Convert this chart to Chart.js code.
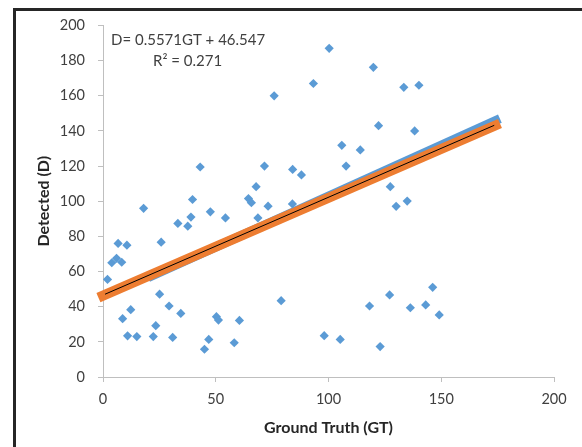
<!DOCTYPE html>
<html>
<head>
<meta charset="utf-8">
<script src="https://cdn.jsdelivr.net/npm/chart.js@4/dist/chart.umd.min.js"></script>
<style>
  html, body { margin: 0; padding: 0; background: #ffffff; overflow: hidden; }
  #wrap { position: relative; width: 582px; height: 447px; }
  #frame { position: absolute; left: 13px; top: 8px; width: 600px; height: 480px;
           border-left: 3px solid #262626; border-top: 3px solid #262626; box-sizing: border-box; }
  canvas { position: absolute; left: 0; top: 0; }
</style>
</head>
<body>
<div id="wrap">
  <div id="frame"></div>
  <canvas id="c" width="582" height="447"></canvas>
</div>
<script>
// Scatter points (Ground Truth, Detected)
const gtValues = [2, 3.9, 6, 8.3, 6.7, 10.6, 8.7, 12.3, 10.9, 15, 18, 22.3, 23.4, 25.1, 25.8, 29.3, 30.9,
  33.2, 34.5, 37.6, 39, 39.7, 43.1, 45, 46.9, 47.6, 50.3, 51.2, 54.3, 58.2, 60.5, 64.5, 65.8, 67.9, 68.7,
  71.6, 73.2, 75.9, 79, 84.1, 84, 88, 93.3, 98.1, 100.3, 105.2, 105.9, 107.8, 114.1, 118.2, 119.9, 122.2,
  122.9, 127.1, 127.4, 130, 133.4, 134.9, 136.3, 138.2, 140.1, 143.1, 146.2, 149.1];
const detectedValues = [55.5, 65, 67.5, 65.3, 76, 75, 33.2, 38.3, 23.4, 23, 96, 23, 29.2, 47.1, 76.7, 40.4, 22.5,
  87.4, 36.2, 85.8, 91, 101, 119.5, 15.8, 21.4, 94, 34.3, 32.4, 90.5, 19.5, 32.2, 101.5, 99.2, 108.3, 90.5,
  120, 97.2, 160, 43.4, 118.1, 98.5, 115, 167, 23.5, 187, 21.4, 131.8, 120, 129.2, 40.4, 176.2, 143,
  17.3, 46.7, 108.3, 97.1, 164.8, 100.1, 39.4, 140, 166, 41, 51, 35.3];

// Dense band of detections (blue) – endpoints
const bandGT = [20, 176];
const bandD = [56.5, 147];
// Fitted values band (orange) – endpoints
const fitGT = [0, 174];
const fitD = [46.3, 143.1];
// Trendline (black) – endpoints
const trendGT = [0.9, 173.5];
const trendD = [47.1, 143.2];

const xTicks = [0, 50, 100, 150, 200];
const yTicks = [0, 20, 40, 60, 80, 100, 120, 140, 160, 180, 200];
const equationText = 'D= 0.5571GT + 46.547';
const r2Text = 'R\u00B2 = 0.271';
const xTitle = 'Ground Truth (GT)';
const yTitle = 'Detected (D)';

const pts = (xs, ys) => xs.map((x, i) => ({ x: x, y: ys[i] }));

const FONT = 'Lato';
const BLUE = '#5B9BD5';
const ORANGE = '#ED7D31';
const AXIS = '#BFBFBF';
const LABEL = '#404040';

const annotation = {
  id: 'annotation',
  afterDraw(chart) {
    const ctx = chart.ctx;
    const a = chart.chartArea;
    ctx.save();
    ctx.font = '15px ' + FONT;
    ctx.fillStyle = LABEL;
    ctx.textAlign = 'left';
    ctx.textBaseline = 'middle';
    ctx.fillText(equationText, a.left + 8, a.top + 15);
    ctx.fillText(r2Text, a.left + 50, a.top + 36);
    ctx.restore();
  }
};

new Chart(document.getElementById('c'), {
  type: 'scatter',
  data: {
    datasets: [
      { label: 'points', data: pts(gtValues, detectedValues), order: 0,
        pointStyle: 'rectRot', pointRadius: 4.6, pointBackgroundColor: BLUE, pointBorderWidth: 0,
        borderColor: BLUE, showLine: false },
      { label: 'trend', data: pts(trendGT, trendD), order: 1, showLine: true,
        borderColor: '#000000', borderWidth: 1, pointRadius: 0, clip: false },
      { label: 'fit', data: pts(fitGT, fitD), order: 2, showLine: true,
        borderColor: ORANGE, borderWidth: 10, borderCapStyle: 'square', pointRadius: 0, clip: false },
      { label: 'band', data: pts(bandGT, bandD), order: 3, showLine: true,
        borderColor: BLUE, borderWidth: 9, borderCapStyle: 'butt', pointRadius: 0, clip: false }
    ]
  },
  options: {
    responsive: false,
    animation: false,
    events: [],
    layout: { padding: { left: 0, top: 25.5, right: 28, bottom: 0 } },
    plugins: { legend: { display: false }, tooltip: { enabled: false } },
    scales: {
      x: {
        type: 'linear', min: 0, max: 200,
        afterBuildTicks: (s) => { s.ticks = xTicks.map(v => ({ value: v })); },
        afterFit: (s) => { s.height = 70; },
        grid: { display: true, drawOnChartArea: false, drawTicks: true, tickLength: 5, color: AXIS },
        border: { display: true, color: AXIS, width: 1 },
        ticks: { font: { family: FONT, size: 14.5 }, color: LABEL, padding: 9, maxRotation: 0 },
        title: { display: true, text: xTitle, color: '#262626',
                 font: { family: FONT, size: 16, weight: 'bold' }, padding: { top: 0, bottom: 9.5 } }
      },
      y: {
        type: 'linear', min: 0, max: 200,
        afterBuildTicks: (s) => { s.ticks = yTicks.map(v => ({ value: v })); },
        afterFit: (s) => { s.width = 103; },
        grid: { display: true, drawOnChartArea: false, drawTicks: true, tickLength: 5, color: AXIS },
        border: { display: true, color: AXIS, width: 1 },
        ticks: { font: { family: FONT, size: 14.5 }, color: LABEL, padding: 13 },
        title: { display: true, text: yTitle, color: '#262626',
                 font: { family: FONT, size: 16, weight: 'bold' }, padding: { top: 34.5, bottom: 0 } }
      }
    }
  },
  plugins: [annotation]
});
</script>
</body>
</html>
